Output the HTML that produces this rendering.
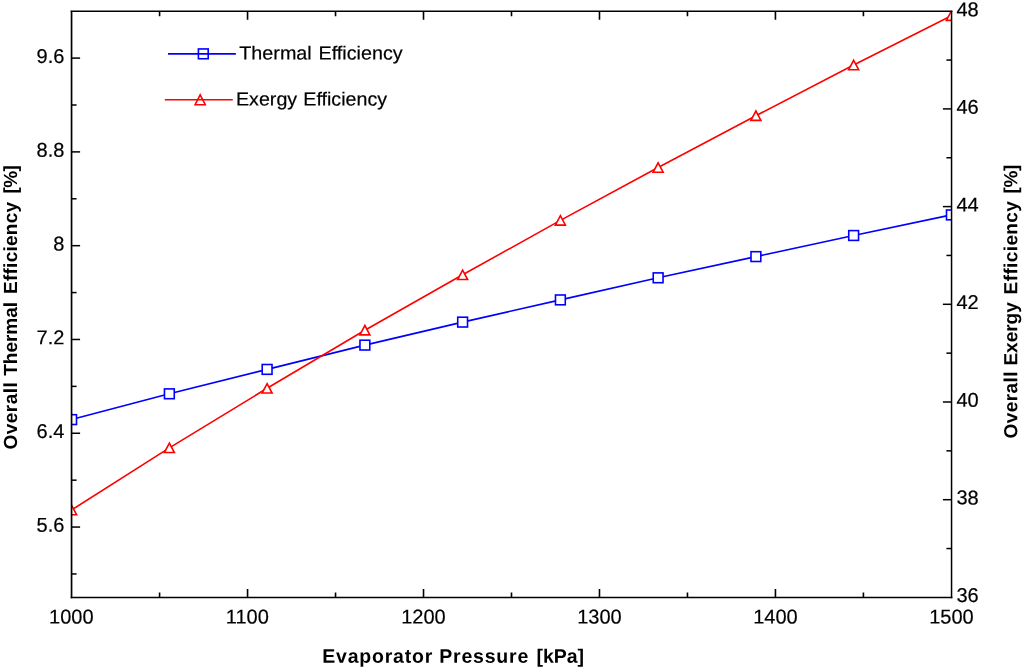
<!DOCTYPE html><html><head><meta charset="utf-8"><style>
html,body{margin:0;padding:0;background:#fff;}
svg{display:block;will-change:transform;}
text{font-family:"Liberation Sans",sans-serif;fill:#000;}
.tk{font-size:20px;stroke:#000;stroke-width:0.2px;}
.lg{font-size:19px;stroke:#000;stroke-width:0.2px;}
.ax{font-size:19px;font-weight:bold;}
.axx{font-size:19.5px;font-weight:bold;}
</style></head><body>
<svg width="1024" height="669" viewBox="0 0 1024 669">
<rect x="0" y="0" width="1024" height="669" fill="#fff"/>
<defs><clipPath id="cp"><rect x="71.60" y="11.20" width="879.80" height="586.20"/></clipPath></defs>
<g clip-path="url(#cp)">
<polyline points="71.60,419.60 169.36,393.80 267.11,369.40 364.87,345.10 462.62,322.10 560.38,299.90 658.13,277.80 755.89,256.60 853.64,235.50 951.40,214.90" fill="none" stroke="#0000ff" stroke-width="1.6"/>
<polyline points="71.60,510.00 169.36,447.80 267.11,388.30 364.87,330.20 462.62,274.80 560.38,220.40 658.13,167.50 755.89,115.70 853.64,65.00 951.40,15.70" fill="none" stroke="#ff0000" stroke-width="1.6"/>
<rect x="66.70" y="414.70" width="9.80" height="9.80" fill="#fff" stroke="#0000ff" stroke-width="1.6"/>
<rect x="164.46" y="388.90" width="9.80" height="9.80" fill="#fff" stroke="#0000ff" stroke-width="1.6"/>
<rect x="262.21" y="364.50" width="9.80" height="9.80" fill="#fff" stroke="#0000ff" stroke-width="1.6"/>
<rect x="359.97" y="340.20" width="9.80" height="9.80" fill="#fff" stroke="#0000ff" stroke-width="1.6"/>
<rect x="457.72" y="317.20" width="9.80" height="9.80" fill="#fff" stroke="#0000ff" stroke-width="1.6"/>
<rect x="555.48" y="295.00" width="9.80" height="9.80" fill="#fff" stroke="#0000ff" stroke-width="1.6"/>
<rect x="653.23" y="272.90" width="9.80" height="9.80" fill="#fff" stroke="#0000ff" stroke-width="1.6"/>
<rect x="750.99" y="251.70" width="9.80" height="9.80" fill="#fff" stroke="#0000ff" stroke-width="1.6"/>
<rect x="848.74" y="230.60" width="9.80" height="9.80" fill="#fff" stroke="#0000ff" stroke-width="1.6"/>
<rect x="946.50" y="210.00" width="9.80" height="9.80" fill="#fff" stroke="#0000ff" stroke-width="1.6"/>
<polygon points="71.60,505.30 76.60,514.70 66.60,514.70" fill="#fff" stroke="#ff0000" stroke-width="1.6" stroke-linejoin="miter"/>
<polygon points="169.36,443.10 174.36,452.50 164.36,452.50" fill="#fff" stroke="#ff0000" stroke-width="1.6" stroke-linejoin="miter"/>
<polygon points="267.11,383.60 272.11,393.00 262.11,393.00" fill="#fff" stroke="#ff0000" stroke-width="1.6" stroke-linejoin="miter"/>
<polygon points="364.87,325.50 369.87,334.90 359.87,334.90" fill="#fff" stroke="#ff0000" stroke-width="1.6" stroke-linejoin="miter"/>
<polygon points="462.62,270.10 467.62,279.50 457.62,279.50" fill="#fff" stroke="#ff0000" stroke-width="1.6" stroke-linejoin="miter"/>
<polygon points="560.38,215.70 565.38,225.10 555.38,225.10" fill="#fff" stroke="#ff0000" stroke-width="1.6" stroke-linejoin="miter"/>
<polygon points="658.13,162.80 663.13,172.20 653.13,172.20" fill="#fff" stroke="#ff0000" stroke-width="1.6" stroke-linejoin="miter"/>
<polygon points="755.89,111.00 760.89,120.40 750.89,120.40" fill="#fff" stroke="#ff0000" stroke-width="1.6" stroke-linejoin="miter"/>
<polygon points="853.64,60.30 858.64,69.70 848.64,69.70" fill="#fff" stroke="#ff0000" stroke-width="1.6" stroke-linejoin="miter"/>
<polygon points="951.40,11.00 956.40,20.40 946.40,20.40" fill="#fff" stroke="#ff0000" stroke-width="1.6" stroke-linejoin="miter"/>
</g>
<g stroke="#000" fill="none" stroke-linecap="butt">
<path d="M71.55 10.70 V598.15" stroke-width="1.7"/>
<path d="M951.55 10.70 V598.15" stroke-width="1.5"/>
<path d="M70.70 11.25 H952.40" stroke-width="1.6"/>
<path d="M70.70 597.40 H952.40" stroke-width="1.5"/>
</g>
<g stroke="#000" stroke-width="1.6" fill="none" stroke-linecap="butt">
<path d="M159.58 597.40 v-5.00 M159.58 11.20 v5.00"/>
<path d="M247.56 597.40 v-8.50 M247.56 11.20 v8.50"/>
<path d="M335.54 597.40 v-5.00 M335.54 11.20 v5.00"/>
<path d="M423.52 597.40 v-8.50 M423.52 11.20 v8.50"/>
<path d="M511.50 597.40 v-5.00 M511.50 11.20 v5.00"/>
<path d="M599.48 597.40 v-8.50 M599.48 11.20 v8.50"/>
<path d="M687.46 597.40 v-5.00 M687.46 11.20 v5.00"/>
<path d="M775.44 597.40 v-8.50 M775.44 11.20 v8.50"/>
<path d="M863.42 597.40 v-5.00 M863.42 11.20 v5.00"/>
</g>
<g stroke="#000" stroke-width="1.5" fill="none" stroke-linecap="butt">
<path d="M71.60 573.95 h5.00"/>
<path d="M71.60 527.06 h8.50"/>
<path d="M71.60 480.16 h5.00"/>
<path d="M71.60 433.26 h8.50"/>
<path d="M71.60 386.37 h5.00"/>
<path d="M71.60 339.47 h8.50"/>
<path d="M71.60 292.58 h5.00"/>
<path d="M71.60 245.68 h8.50"/>
<path d="M71.60 198.78 h5.00"/>
<path d="M71.60 151.89 h8.50"/>
<path d="M71.60 104.99 h5.00"/>
<path d="M71.60 58.10 h8.50"/>
<path d="M951.40 548.55 h-5.00"/>
<path d="M951.40 499.70 h-8.50"/>
<path d="M951.40 450.85 h-5.00"/>
<path d="M951.40 402.00 h-8.50"/>
<path d="M951.40 353.15 h-5.00"/>
<path d="M951.40 304.30 h-8.50"/>
<path d="M951.40 255.45 h-5.00"/>
<path d="M951.40 206.60 h-8.50"/>
<path d="M951.40 157.75 h-5.00"/>
<path d="M951.40 108.90 h-8.50"/>
<path d="M951.40 60.05 h-5.00"/>
</g>
<text class="tk" transform="translate(64.40,531.86) scale(1.0000,1) rotate(0.03)" text-anchor="end" >5.6</text>
<text class="tk" transform="translate(64.40,438.06) scale(1.0000,1) rotate(0.03)" text-anchor="end" >6.4</text>
<text class="tk" transform="translate(64.40,344.27) scale(1.0000,1) rotate(0.03)" text-anchor="end" >7.2</text>
<text class="tk" transform="translate(64.40,250.48) scale(1.0000,1) rotate(0.03)" text-anchor="end" >8</text>
<text class="tk" transform="translate(64.40,156.69) scale(1.0000,1) rotate(0.03)" text-anchor="end" >8.8</text>
<text class="tk" transform="translate(64.40,62.90) scale(1.0000,1) rotate(0.03)" text-anchor="end" >9.6</text>
<text class="tk" transform="translate(956.40,602.00) scale(1.0000,1) rotate(0.03)" text-anchor="start" >36</text>
<text class="tk" transform="translate(956.40,504.37) scale(1.0000,1) rotate(0.03)" text-anchor="start" >38</text>
<text class="tk" transform="translate(956.40,406.73) scale(1.0000,1) rotate(0.03)" text-anchor="start" >40</text>
<text class="tk" transform="translate(956.40,309.10) scale(1.0000,1) rotate(0.03)" text-anchor="start" >42</text>
<text class="tk" transform="translate(956.40,211.47) scale(1.0000,1) rotate(0.03)" text-anchor="start" >44</text>
<text class="tk" transform="translate(956.40,113.83) scale(1.0000,1) rotate(0.03)" text-anchor="start" >46</text>
<text class="tk" transform="translate(956.40,16.20) scale(1.0000,1) rotate(0.03)" text-anchor="start" >48</text>
<text class="tk" transform="translate(71.30,623.60) scale(1.0000,1) rotate(0.03)" text-anchor="middle" >1000</text>
<text class="tk" transform="translate(247.34,623.60) scale(1.0000,1) rotate(0.03)" text-anchor="middle" >1100</text>
<text class="tk" transform="translate(423.38,623.60) scale(1.0000,1) rotate(0.03)" text-anchor="middle" >1200</text>
<text class="tk" transform="translate(599.42,623.60) scale(1.0000,1) rotate(0.03)" text-anchor="middle" >1300</text>
<text class="tk" transform="translate(775.46,623.60) scale(1.0000,1) rotate(0.03)" text-anchor="middle" >1400</text>
<text class="tk" transform="translate(951.50,623.60) scale(1.0000,1) rotate(0.03)" text-anchor="middle" >1500</text>
<path d="M168 53.85 H235.9" stroke="#0000ff" stroke-width="1.6"/>
<rect x="198.4" y="48.95" width="9.8" height="9.8" fill="none" stroke="#0000ff" stroke-width="1.6"/>
<path d="M164.8 99.8 H232.8" stroke="#ff0000" stroke-width="1.6"/>
<polygon points="200.2,94.8 205.3,104.7 195.1,104.7" fill="none" stroke="#ff0000" stroke-width="1.6"/>
<text class="lg" transform="translate(239.30,59.40) scale(1.0400,1) rotate(0.03)" text-anchor="start" >Thermal</text>
<text class="lg" transform="translate(318.50,59.40) scale(1.0400,1) rotate(0.03)" text-anchor="start" >Efficiency</text>
<text class="lg" transform="translate(236.00,105.40) scale(1.0350,1) rotate(0.03)" text-anchor="start" >Exergy</text>
<text class="lg" transform="translate(303.30,105.40) scale(1.0350,1) rotate(0.03)" text-anchor="start" >Efficiency</text>
<text class="axx" transform="translate(322.20,662.8) scale(1.000,1) rotate(0.03)" letter-spacing="0.80">Evaporator</text>
<text class="axx" transform="translate(439.20,662.8) scale(1.000,1) rotate(0.03)" letter-spacing="0.80">Pressure</text>
<text class="axx" transform="translate(536.40,662.8) scale(1.000,1) rotate(0.03)" letter-spacing="0.00">[kPa]</text>
<text class="ax" transform="translate(16.9,449.60) rotate(-89.97)" letter-spacing="0.50">Overall</text>
<text class="ax" transform="translate(16.9,375.80) rotate(-89.97)" letter-spacing="0.00">Thermal</text>
<text class="ax" transform="translate(16.9,294.00) rotate(-89.97)" letter-spacing="0.26">Efficiency</text>
<text class="ax" transform="translate(16.9,193.60) rotate(-89.97)" letter-spacing="-0.50">[%]</text>
<text class="ax" transform="translate(1017.2,438.50) rotate(-89.97)" letter-spacing="0.45">Overall</text>
<text class="ax" transform="translate(1017.2,365.60) rotate(-89.97)" letter-spacing="0.00">Exergy</text>
<text class="ax" transform="translate(1017.2,294.40) rotate(-89.97)" letter-spacing="0.39">Efficiency</text>
<text class="ax" transform="translate(1017.2,193.50) rotate(-89.97)" letter-spacing="-0.30">[%]</text>
</svg></body></html>
